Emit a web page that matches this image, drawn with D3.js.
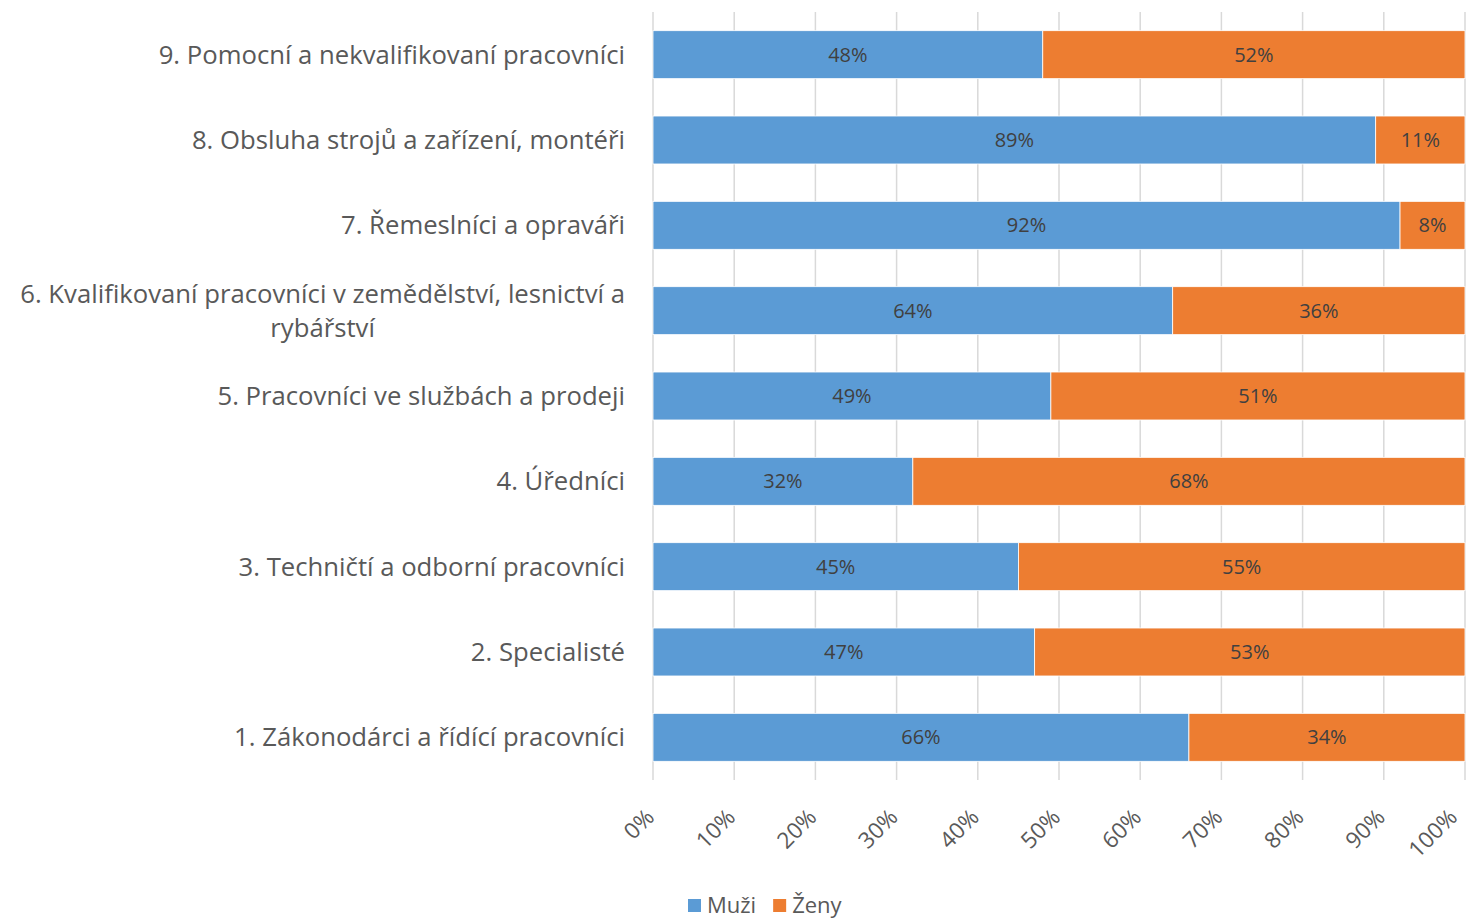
<!DOCTYPE html>
<html>
<head>
<meta charset="utf-8">
<script src="https://cdn.jsdelivr.net/npm/d3@7"></script>
<style>
  html, body { margin: 0; padding: 0; background: #fff; }
  svg { display: block; font-family: "Open Sans", "Noto Sans", sans-serif; }
</style>
</head>
<body>
<svg id="chart" width="1470" height="918"></svg>
<script>
// Occupational groups, listed top to bottom
const categories = [
  "9. Pomocní a nekvalifikovaní pracovníci",
  "8. Obsluha strojů a zařízení, montéři",
  "7. Řemeslníci a opraváři",
  "6. Kvalifikovaní pracovníci v zemědělství, lesnictví a rybářství",
  "5. Pracovníci ve službách a prodeji",
  "4. Úředníci",
  "3. Techničtí a odborní pracovníci",
  "2. Specialisté",
  "1. Zákonodárci a řídící pracovníci"
];
const muzi = [48, 89, 92, 64, 49, 32, 45, 47, 66];
const zeny = [52, 11, 8, 36, 51, 68, 55, 53, 34];
const seriesNames = ["Muži", "Ženy"];
const colors = ["#5B9BD5", "#ED7D31"];
const xTicks = [0, 10, 20, 30, 40, 50, 60, 70, 80, 90, 100];

const svg = d3.select("#chart");
const margin = { left: 653, right: 5, top: 12, bottom: 138 };
const W = 1470, H = 918;
const plotW = W - margin.left - margin.right;
const plotH = H - margin.top - margin.bottom;

const rows = categories.map((c, i) => ({ cat: c, values: [muzi[i], zeny[i]] }));

const x = d3.scaleLinear().domain([0, 100]).range([0, plotW]);
const y = d3.scaleBand().domain(categories).range([0, plotH]).paddingInner(0.438).paddingOuter(0.219);

const g = svg.append("g").attr("transform", `translate(${margin.left},${margin.top})`);

// Vertical gridlines
g.append("g").selectAll("line").data(xTicks).join("line")
  .attr("x1", d => x(d)).attr("x2", d => x(d))
  .attr("y1", 0).attr("y2", plotH)
  .attr("stroke", "#d9d9d9").attr("stroke-width", 1.5);

// Stacked bars
const stack = d3.stack().keys([0, 1]).value((d, k) => d.values[k]);
const stacked = stack(rows);

const layers = g.append("g").selectAll("g").data(stacked).join("g")
  .attr("fill", (d, i) => colors[i]);

layers.selectAll("rect").data(d => d).join("rect")
  .attr("x", d => x(d[0]))
  .attr("y", d => y(d.data.cat))
  .attr("width", d => x(d[1]) - x(d[0]))
  .attr("height", y.bandwidth())
  .attr("stroke", "#fff").attr("stroke-width", 0.8);

// Value labels centred in each segment
layers.selectAll("text").data(d => d).join("text")
  .attr("x", d => (x(d[0]) + x(d[1])) / 2)
  .attr("y", d => y(d.data.cat) + y.bandwidth() / 2)
  .attr("dy", "0.35em")
  .attr("text-anchor", "middle")
  .attr("fill", "#404040")
  .attr("font-size", 20)
  .text(d => (d[1] - d[0]) + "%");

// Category labels, wrapped to a maximum width and centred as a block
const labelSize = 25.7;
const maxLabelW = 625;
const labelRight = -28;
const catG = g.append("g");
categories.forEach(cat => {
  const t = catG.append("text")
    .attr("fill", "#595959").attr("font-size", labelSize)
    .attr("text-anchor", "middle");
  const words = cat.split(" ");
  const lines = [];
  let line = [];
  const probe = catG.append("text").attr("font-size", labelSize);
  words.forEach(w => {
    line.push(w);
    probe.text(line.join(" "));
    if (probe.node().getComputedTextLength() > maxLabelW && line.length > 1) {
      line.pop();
      lines.push(line.join(" "));
      line = [w];
    }
  });
  lines.push(line.join(" "));
  let widest = 0;
  lines.forEach(l => { probe.text(l); widest = Math.max(widest, probe.node().getComputedTextLength()); });
  probe.remove();
  const lh = 34;
  const cy = y(cat) + y.bandwidth() / 2;
  const cx = labelRight - widest / 2;
  lines.forEach((l, i) => {
    t.append("tspan")
      .attr("x", cx)
      .attr("y", cy + (i - (lines.length - 1) / 2) * lh)
      .attr("dy", "0.35em")
      .text(l);
  });
});

// Rotated percentage axis labels (last one kept inside the canvas edge)
g.append("g").selectAll("text").data(xTicks).join("text")
  .attr("transform", d => `translate(${Math.min(x(d) - 3, plotW - 12)},${plotH + 33}) rotate(-45)`)
  .attr("text-anchor", "end")
  .attr("dy", "0.35em")
  .attr("fill", "#595959")
  .attr("font-size", 22.5)
  .text(d => d + "%");

// Legend
const legend = svg.append("g").attr("transform", "translate(688,905)");
let lx = 0;
seriesNames.forEach((name, i) => {
  const item = legend.append("g").attr("transform", `translate(${lx},0)`);
  item.append("rect").attr("x", 0).attr("y", -6).attr("width", 13).attr("height", 13).attr("fill", colors[i]);
  const tx = item.append("text").attr("x", 19).attr("dy", "0.35em")
    .attr("fill", "#595959").attr("font-size", 22).text(name);
  lx += 19 + tx.node().getComputedTextLength() + 17;
});
</script>
</body>
</html>
